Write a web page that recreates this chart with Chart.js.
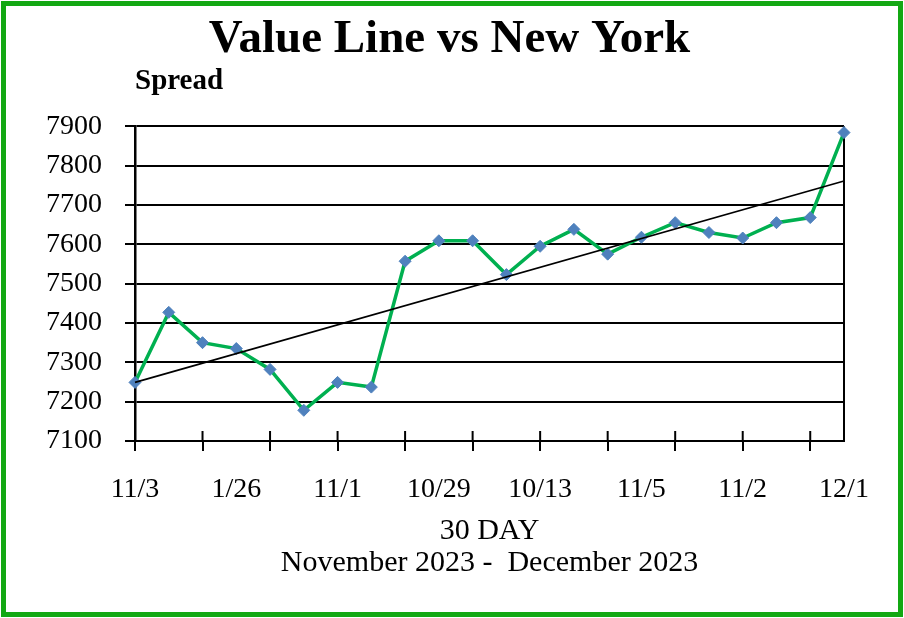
<!DOCTYPE html>
<html>
<head>
<meta charset="utf-8">
<script src="https://cdn.jsdelivr.net/npm/chart.js@4.4.1/dist/chart.umd.min.js"></script>
<style>
  body { margin: 0; background: #fff; }
  #frame {
    position: absolute; left: 1px; top: 1px;
    width: 902px; height: 616px;
    box-sizing: border-box;
    border: 5px solid #13a813;
    background: #fff;
  }
  #frame canvas { display: block; }
</style>
</head>
<body>
<div id="frame"><canvas id="chart" width="892" height="606"></canvas></div>
<script>
// categories (only every third date is shown on the axis)
const dates = ['11/3', '', '', '1/26', '', '', '11/1', '', '', '10/29', '', '',
               '10/13', '', '', '11/5', '', '', '11/2', '', '', '12/1'];
// spread values
const spread = [7249, 7427, 7350, 7335, 7282, 7178, 7249, 7237, 7557, 7609, 7609,
                7523, 7595, 7638, 7575, 7618, 7655, 7630, 7616, 7655, 7668, 7884];
// linear trend line, start and end values
const trendStart = 7249;
const trendEnd = 7761;
const trend = dates.map((d, i) => i === 0 ? trendStart : (i === dates.length - 1 ? trendEnd : null));

const yTicks = { min: 7100, max: 7900, step: 100 };
const serif = "'Liberation Serif', 'Times New Roman', serif";

// short tick marks that cross the x axis into the plot
const innerTicks = {
  id: 'innerTicks',
  afterDatasetsDraw(chart) {
    const x = chart.scales.x;
    const ctx = chart.ctx;
    const bottom = chart.chartArea.bottom;
    ctx.save();
    ctx.strokeStyle = '#000';
    ctx.lineWidth = 2;
    x.ticks.forEach((t, i) => {
      if (i % 2 !== 0) return;
      const px = x.getPixelForTick(i);
      ctx.beginPath();
      ctx.moveTo(px, bottom - 10);
      ctx.lineTo(px, bottom);
      ctx.stroke();
    });
    ctx.restore();
  }
};

new Chart(document.getElementById('chart').getContext('2d'), {
  type: 'line',
  data: {
    labels: dates,
    datasets: [
      {
        label: 'Trend',
        data: trend,
        spanGaps: true,
        borderColor: '#000',
        borderWidth: 1.7,
        pointRadius: 0,
        tension: 0
      },
      {
        label: 'Spread',
        data: spread,
        borderColor: '#00b050',
        borderWidth: 3.5,
        tension: 0,
        pointStyle: 'rectRot',
        pointRadius: 6,
        pointBackgroundColor: '#4f81bd',
        pointBorderColor: '#4f81bd',
        pointBorderWidth: 1,
        clip: false
      }
    ]
  },
  options: {
    responsive: false,
    animation: false,
    layout: { padding: { left: 0, right: 5, top: 0, bottom: 33 } },
    plugins: {
      legend: { display: false },
      tooltip: { enabled: false },
      title: {
        display: true,
        text: 'Value Line vs New York',
        color: '#000',
        font: { family: serif, size: 47, weight: 'bold', lineHeight: 1.0 },
        padding: { top: 10.5, bottom: 0 }
      },
      subtitle: {
        display: true,
        text: 'Spread',
        align: 'start',
        fullSize: false,
        color: '#000',
        font: { family: serif, size: 29, weight: 'bold', lineHeight: 1.2 },
        padding: { top: 1, bottom: 27 }
      }
    },
    scales: {
      x: {
        afterFit: s => { s.height = 138; },
        grid: {
          drawOnChartArea: true,
          color: c => c.index === dates.length - 1 ? '#000' : 'rgba(0,0,0,0)',
          lineWidth: 2,
          tickColor: c => c.index % 2 === 0 && c.index < dates.length - 1 ? '#000' : 'rgba(0,0,0,0)',
          tickWidth: 2,
          tickLength: 10
        },
        border: { display: true, color: '#000', width: 2 },
        ticks: {
          autoSkip: false,
          maxRotation: 0,
          padding: 22,
          color: '#000',
          font: { family: serif, size: 28 }
        },
        title: {
          display: true,
          text: ['30 DAY', 'November 2023 -  December 2023'],
          color: '#000',
          font: { family: serif, size: 30, lineHeight: 1.067 },
          padding: { top: 0, bottom: 0 }
        }
      },
      y: {
        min: yTicks.min,
        max: yTicks.max,
        afterFit: s => { s.width = 129; },
        grid: { color: '#000', lineWidth: 2, tickLength: 10 },
        border: { display: true, color: '#000', width: 2.5 },
        ticks: {
          stepSize: yTicks.step,
          padding: 23,
          color: '#000',
          font: { family: serif, size: 28 },
          callback: v => String(v)
        }
      },
      // empty right-hand axis that only keeps room beside the plot
      yRight: {
        position: 'right',
        display: true,
        afterFit: s => { s.width = 49; },
        grid: { display: false },
        border: { display: false },
        ticks: { display: false }
      }
    }
  },
  plugins: [innerTicks]
});
</script>
</body>
</html>
